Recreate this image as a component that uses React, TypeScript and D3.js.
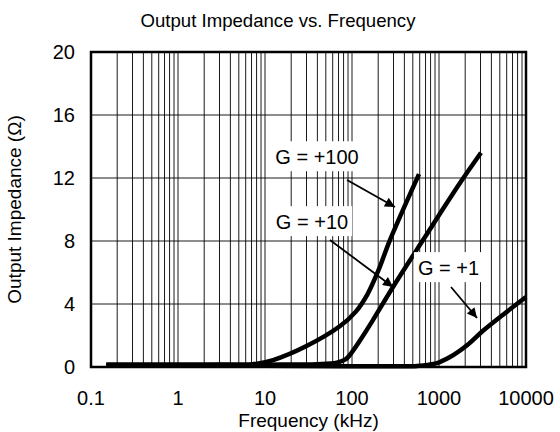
import React, { useEffect, useRef } from "react";
import * as d3 from "d3";

const TITLE = "Output Impedance vs. Frequency";
const X_LABEL = "Frequency (kHz)";
const Y_LABEL = "Output Impedance (Ω)";

const xTicks = [0.1, 1, 10, 100, 1000, 10000];
const xTickLabels = ["0.1", "1", "10", "100", "1000", "10000"];
const yTicks = [0, 4, 8, 12, 16, 20];

const freqG100 = [0.15, 1, 3, 5, 7, 12.4, 30, 73, 110, 150, 200, 273, 589];
const zG100 = [0.15, 0.15, 0.15, 0.14, 0.16, 0.44, 1.33, 2.6, 3.5, 4.6, 6.1, 8.06, 12.25];

const freqG10 = [0.15, 1, 10, 40, 67, 85, 95, 124, 174, 296, 655, 1742, 3040];
const zG10 = [0.15, 0.15, 0.15, 0.18, 0.28, 0.5, 0.78, 1.7, 2.98, 5.08, 8.06, 11.68, 13.6];

const freqG1 = [0.15, 1, 3, 10, 100, 300, 558, 949, 1337, 2099, 3206, 5445, 10000];
const zG1 = [0.1, 0.1, 0.13, 0.08, 0.05, 0.05, 0.07, 0.25, 0.63, 1.38, 2.3, 3.32, 4.44];

const labels = ["G = +100", "G = +10", "G = +1"];
const labelFreq = [39.6, 34.7, 1285];
const labelZ = [13.33, 9.21, 6.29];
const arrowFromFreq = [87.7, 55.8, 1374];
const arrowFromZ = [11.87, 8.06, 5.08];
const arrowToFreq = [312, 296, 2736];
const arrowToZ = [10.16, 5.08, 3.11];

export default function App() {
  const ref = useRef<SVGSVGElement | null>(null);

  useEffect(() => {
    const svg = d3.select(ref.current);
    svg.selectAll("*").remove();
    const W = 560, H = 432;
    const left = 91, right = 526, top = 52, bottom = 367;
    const font = "Arial, 'Liberation Sans', sans-serif";

    const x = d3.scaleLog().domain([0.1, 10000]).range([left, right]);
    const y = d3.scaleLinear().domain([0, 20]).range([bottom, top]);

    svg.append("rect").attr("width", W).attr("height", H).attr("fill", "#fff");

    const vgrid: number[] = [];
    for (let e = -1; e < 4; e++) {
      for (let m = 1; m <= 9; m++) vgrid.push(m * Math.pow(10, e));
    }
    svg.append("g").selectAll("line").data(vgrid.filter(v => v > 0.1)).join("line")
      .attr("x1", d => x(d)).attr("x2", d => x(d))
      .attr("y1", top).attr("y2", bottom)
      .attr("stroke", "#000").attr("stroke-width", 0.9);

    svg.append("g").selectAll("line").data(yTicks.slice(1, -1)).join("line")
      .attr("x1", left).attr("x2", right)
      .attr("y1", d => y(d)).attr("y2", d => y(d))
      .attr("stroke", "#000").attr("stroke-width", 0.9);

    const series = [
      [freqG100, zG100],
      [freqG10, zG10],
      [freqG1, zG1],
    ];
    const line = d3.line<[number, number]>()
      .x(d => x(d[0])).y(d => y(d[1]))
      .curve(d3.curveCatmullRom.alpha(0.5));
    const cg = svg.append("g");
    series.forEach(([f, z]) => {
      const pts = f.map((v, i) => [v, z[i]] as [number, number]);
      cg.append("path").attr("d", line(pts)!)
        .attr("fill", "none").attr("stroke", "#000")
        .attr("stroke-width", 4.5).attr("stroke-linejoin", "round");
    });

    const defs = svg.append("defs");
    defs.append("marker").attr("id", "arr").attr("viewBox", "0 0 10 10")
      .attr("refX", 10).attr("refY", 5).attr("markerWidth", 13).attr("markerHeight", 10)
      .attr("markerUnits", "userSpaceOnUse").attr("orient", "auto")
      .append("path").attr("d", "M0,0 L10,5 L0,10 Z").attr("fill", "#000");

    const ag = svg.append("g");
    labels.forEach((t, i) => {
      const g = ag.append("g");
      const rect = g.append("rect").attr("fill", "#fff");
      const txt = g.append("text").text(t)
        .attr("x", x(labelFreq[i])).attr("y", y(labelZ[i]))
        .attr("dy", "0.36em").attr("text-anchor", "middle")
        .attr("font-family", font).attr("font-size", 20);
      const bb = (txt.node() as SVGTextElement).getBBox();
      rect.attr("x", bb.x - 4).attr("y", bb.y - 5)
        .attr("width", bb.width + 8).attr("height", bb.height + 8);
      ag.append("line")
        .attr("x1", x(arrowFromFreq[i])).attr("y1", y(arrowFromZ[i]))
        .attr("x2", x(arrowToFreq[i])).attr("y2", y(arrowToZ[i]))
        .attr("stroke", "#000").attr("stroke-width", 1.8)
        .attr("marker-end", "url(#arr)");
    });

    svg.append("rect").attr("x", left).attr("y", top)
      .attr("width", right - left).attr("height", bottom - top)
      .attr("fill", "none").attr("stroke", "#000").attr("stroke-width", 2.5);

    svg.append("g").selectAll("text").data(yTicks).join("text")
      .attr("x", 75).attr("y", d => y(d)).attr("dy", "0.36em")
      .attr("text-anchor", "end").attr("font-family", font).attr("font-size", 20)
      .text(d => String(d));
    svg.append("g").selectAll("text").data(xTicks).join("text")
      .attr("x", d => x(d)).attr("y", 405)
      .attr("text-anchor", "middle").attr("font-family", font).attr("font-size", 20)
      .text((d, i) => xTickLabels[i]);

    svg.append("text").attr("x", 278).attr("y", 26.5).attr("text-anchor", "middle")
      .attr("font-family", font).attr("font-size", 18.6).text(TITLE);
    svg.append("text").attr("x", (left + right) / 2).attr("y", 427).attr("text-anchor", "middle")
      .attr("font-family", font).attr("font-size", 19).text(X_LABEL);
    svg.append("text").attr("transform", `translate(21,${(top + bottom) / 2}) rotate(-90)`)
      .attr("text-anchor", "middle")
      .attr("font-family", font).attr("font-size", 19).text(Y_LABEL);
  }, []);

  return (
    <svg ref={ref} width={560} height={432}
      style={{ position: "fixed", left: 0, top: 0, display: "block" }} />
  );
}
